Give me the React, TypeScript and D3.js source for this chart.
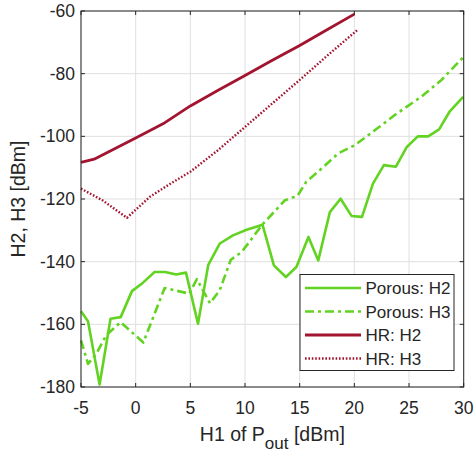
import React from "react";
import * as d3 from "d3";

// Porous sample, 2nd harmonic
const porousH2X = [-5, -4.36, -3.3, -2.3, -1.37, -0.34, 0.67, 1.73, 2.7, 3.7, 4.6, 5.7, 6.64, 7.7, 8.9, 10.15, 11.6, 12.64, 13.74, 14.7, 15.8, 16.7, 17.76, 18.74, 19.74, 20.7, 21.7, 22.7, 23.8, 24.8, 25.8, 26.75, 27.75, 28.73, 29.95];
const porousH2Y = [-155.8, -159, -179.2, -158.2, -157.7, -149.4, -146.7, -143.3, -143.3, -144.1, -143.5, -159.8, -141, -134.2, -131.6, -129.8, -128.2, -141.2, -144.9, -141.7, -132.1, -139.6, -124.2, -119.9, -125.4, -125.7, -115.1, -109.2, -109.7, -103.4, -100, -100, -97.8, -92, -87.4];

// Porous sample, 3rd harmonic
const porousH3X = [-5, -4.36, -3.6, -2.7, -1.37, 0.7, 2.65, 4.9, 5.6, 6.8, 7.7, 8.7, 9.7, 11.6, 13.65, 14.8, 15.6, 17, 18.5, 20.05, 21.9, 23.7, 26.1, 27.97, 30];
const porousH3Y = [-165.1, -172.6, -169.4, -163.5, -159.3, -165.8, -148.4, -150.2, -145.6, -153.3, -149, -139.4, -136.9, -128.1, -120.4, -119, -114.5, -110.3, -105.5, -102.8, -98, -93.2, -87.4, -82, -74.6];

// HR sample
const hrH2X = [-5, -3.8, -2.5, 0, 2.5, 5, 7.5, 10, 12.5, 15, 17.5, 20];
const hrH2Y = [-108.3, -107.3, -105, -100.5, -96, -90.3, -85.4, -80.6, -75.7, -71, -66, -61];
const hrH3X = [-5, -3, -0.8, 1.3, 3, 5, 7.5, 10, 12.5, 15, 17.5, 20.3];
const hrH3Y = [-116.7, -120.5, -126, -119.3, -115.5, -111.3, -104.5, -97, -89.5, -82, -74.3, -66];

const xTicks = [-5, 0, 5, 10, 15, 20, 25, 30];
const yTicks = [-180, -160, -140, -120, -100, -80, -60];

const GREEN = "#62d321";
const RED = "#a2142f";
const INK = "#262626";

const series = [
  { name: "Porous: H2", xs: porousH2X, ys: porousH2Y, color: GREEN, dash: "none", width: 2.6 },
  { name: "Porous: H3", xs: porousH3X, ys: porousH3Y, color: GREEN, dash: "9,4,3,4", width: 2.6 },
  { name: "HR: H2", xs: hrH2X, ys: hrH2Y, color: RED, dash: "none", width: 2.8 },
  { name: "HR: H3", xs: hrH3X, ys: hrH3Y, color: RED, dash: "1.6,1.8", width: 2.4 },
];

export default function App() {
  const width = 475;
  const height = 454;
  const left = 81;
  const right = 463.7;
  const top = 11;
  const bottom = 387;

  const x = d3.scaleLinear().domain([-5, 30]).range([left, right]);
  const y = d3.scaleLinear().domain([-180, -60]).range([bottom, top]);

  const line = d3
    .line<[number, number]>()
    .x((d) => x(d[0]))
    .y((d) => y(d[1]));

  const font = "'Liberation Sans', Arial, sans-serif";

  // legend box
  const lg = { x: 300, y: 274.5, w: 154, h: 96 };
  const rowH = 23.5;

  return (
    <svg
      width={width}
      height={height}
      style={{ position: "absolute", left: 0, top: 0, background: "#fff" }}
      fontFamily={font}
    >
      <rect x={0} y={0} width={width} height={height} fill="#fff" />

      {/* grid */}
      {xTicks.map((t) => (
        <line key={"gx" + t} x1={x(t)} x2={x(t)} y1={top} y2={bottom} stroke="#dfdfdf" strokeWidth={1} />
      ))}
      {yTicks.map((t) => (
        <line key={"gy" + t} x1={left} x2={right} y1={y(t)} y2={y(t)} stroke="#dfdfdf" strokeWidth={1} />
      ))}

      {/* series */}
      {series.map((s) => (
        <path
          key={s.name}
          d={line(s.xs.map((v, i) => [v, s.ys[i]] as [number, number])) || ""}
          fill="none"
          stroke={s.color}
          strokeWidth={s.width}
          strokeDasharray={s.dash}
          strokeLinejoin="round"
        />
      ))}

      {/* axes box and ticks */}
      <rect x={left} y={top} width={right - left} height={bottom - top} fill="none" stroke={INK} strokeWidth={1} />
      {xTicks.map((t) => (
        <g key={"tx" + t}>
          <line x1={x(t)} x2={x(t)} y1={bottom} y2={bottom - 4} stroke={INK} />
          <line x1={x(t)} x2={x(t)} y1={top} y2={top + 4} stroke={INK} />
          <text x={x(t)} y={414} textAnchor="middle" fontSize={17.5} fill={INK}>
            {t}
          </text>
        </g>
      ))}
      {yTicks.map((t) => (
        <g key={"ty" + t}>
          <line x1={left} x2={left + 4} y1={y(t)} y2={y(t)} stroke={INK} />
          <line x1={right} x2={right - 4} y1={y(t)} y2={y(t)} stroke={INK} />
          <text x={left - 6} y={y(t) + 6} textAnchor="end" fontSize={17.5} fill={INK}>
            {t}
          </text>
        </g>
      ))}

      {/* axis labels */}
      <text x={(left + right) / 2} y={441} textAnchor="middle" fontSize={19.5} fill={INK}>
        H1 of P
        <tspan dy={8} fontSize={17}>out</tspan>
        <tspan dy={-8}> [dBm]</tspan>
      </text>
      <text
        transform={`translate(25, ${(top + bottom) / 2}) rotate(-90)`}
        textAnchor="middle"
        fontSize={19.5}
        fill={INK}
      >
        H2, H3 [dBm]
      </text>

      {/* legend */}
      <rect x={lg.x} y={lg.y} width={lg.w} height={lg.h} fill="#fff" stroke={INK} strokeWidth={1} />
      {series.map((s, i) => {
        const cy = lg.y + 13.5 + i * rowH;
        return (
          <g key={"lg" + s.name}>
            <line x1={305} x2={361} y1={cy} y2={cy} stroke={s.color} strokeWidth={s.width} strokeDasharray={s.dash} />
            <text x={365.5} y={cy + 6} fontSize={17} fill={INK}>
              {s.name}
            </text>
          </g>
        );
      })}
    </svg>
  );
}
